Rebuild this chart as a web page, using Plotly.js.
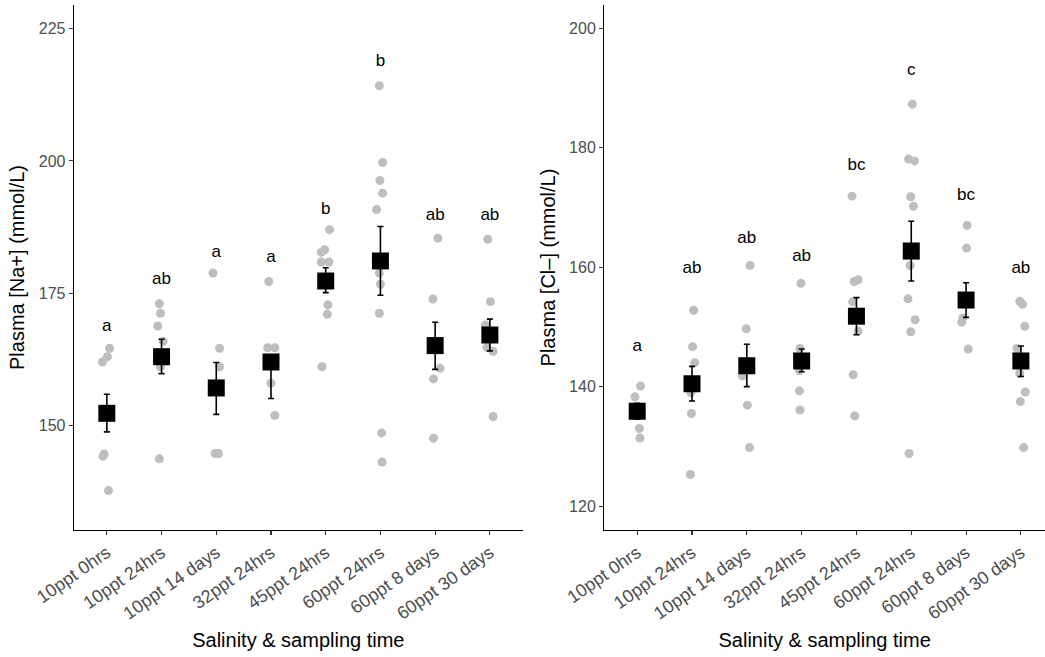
<!DOCTYPE html>
<html>
<head>
<meta charset="utf-8">
<script src="https://cdn.plot.ly/plotly-3.0.1.min.js"></script>
<style>html,body{margin:0;padding:0;background:#fff;}#chart{width:1045px;height:657px;}</style>
</head>
<body>
<div id="chart"></div>
<script>
const categories = ["10ppt 0hrs","10ppt 24hrs","10ppt 14 days","32ppt 24hrs","45ppt 24hrs","60ppt 24hrs","60ppt 8 days","60ppt 30 days"];

// Plasma Na+ (left panel)
const naPoints = [
  [164.6,163.0,162.0,144.6,144.2,137.7],
  [173.0,171.2,168.8,165.9,162.1,161.1,143.7],
  [178.8,164.6,161.1,144.7,144.7],
  [177.2,164.7,164.7,158.0,151.9],
  [187.0,183.2,182.7,180.9,180.9,172.8,171.0,161.1],
  [214.2,199.7,196.3,193.9,190.8,178.8,176.7,171.2,148.6,143.1],
  [185.4,173.9,160.8,158.8,147.6],
  [185.2,173.4,169.0,164.7,164.0,151.7]
];
const naJitter = [
  [0.05,0.01,-0.08,-0.05,-0.07,0.03],
  [-0.04,-0.02,-0.07,0.03,0.07,-0.02,-0.04],
  [-0.06,0.06,0.06,-0.02,0.04],
  [-0.04,-0.06,0.07,0,0.07],
  [0.07,-0.02,-0.08,0.06,-0.08,0.04,0.03,-0.07],
  [-0.02,0.04,-0.01,0.04,-0.07,-0.02,0,-0.02,0.02,0.03],
  [0.05,-0.04,0.09,-0.03,-0.03],
  [-0.04,0.01,-0.08,-0.05,0.06,0.06]
];
const naMean = [152.3,163.0,157.1,162.0,177.3,181.1,165.1,167.1];
const naHigh = [155.9,166.3,161.9,162.0,179.8,187.6,169.5,170.1];
const naLow  = [148.8,159.8,152.1,155.1,175.1,174.6,160.6,164.1];
const naLetters = ["a","ab","a","a","b","b","ab","ab"];
const naLetterY = [168.7,177.6,182.7,181.7,190.8,218.8,189.6,189.6];

// Plasma Cl- (right panel)
const clPoints = [
  [140.1,138.3,133.0,131.4],
  [152.8,146.7,144.0,139.0,135.5,125.3],
  [160.3,149.7,141.8,136.9,129.8],
  [157.3,146.4,142.7,139.3,136.1],
  [171.9,157.9,157.6,154.2,149.3,142.0,135.1],
  [187.3,178.1,177.8,171.8,170.2,160.3,154.7,151.2,149.2,128.8],
  [167.0,163.2,151.5,150.8,146.3],
  [154.3,153.8,150.1,146.4,142.2,139.1,137.5,129.8]
];
const clJitter = [
  [0.06,-0.04,0.04,0.05],
  [0.03,0.01,0.05,-0.02,-0.01,-0.03],
  [0.06,-0.01,-0.08,0.01,0.05],
  [-0.01,-0.03,-0.04,-0.04,-0.03],
  [-0.08,0.03,-0.04,-0.07,0.03,-0.06,-0.03],
  [0.02,-0.05,0.06,-0.01,0.04,-0.02,-0.06,0.07,-0.01,-0.04],
  [0.02,0.01,-0.06,-0.08,0.04],
  [-0.02,0.03,0.07,-0.07,-0.02,0.08,-0.01,0.05]
];
const clMean = [135.9,140.5,143.5,144.3,151.8,162.7,154.5,144.3];
const clHigh = [137.2,143.4,147.1,146.3,154.9,167.7,157.4,146.8];
const clLow  = [134.6,137.6,140.0,142.5,148.7,157.7,151.6,141.7];
const clLetters = ["a","ab","ab","ab","bc","c","bc","ab"];
const clLetterY = [146.6,159.7,164.8,161.8,177.0,192.9,171.9,159.8];

const FONT = "Liberation Sans, Arial, Helvetica, sans-serif";
const idx = categories.map((c,i)=>i+1);

function panelTraces(points, jitter, mean, high, low, letters, letterY, xa, ya){
  const px = [], py = [];
  points.forEach((grp,i)=>grp.forEach((v,j)=>{px.push(i+1+jitter[i][j]); py.push(v);}));
  return [
    {type:"scatter", mode:"markers", x:px, y:py, xaxis:xa, yaxis:ya,
     marker:{color:"#BEBEBE", size:9}, hoverinfo:"y", showlegend:false},
    {type:"scatter", mode:"markers", x:idx, y:mean, xaxis:xa, yaxis:ya,
     marker:{color:"#000000", size:17, symbol:"square"},
     error_y:{type:"data", symmetric:false,
       array: high.map((h,i)=>h-mean[i]), arrayminus: mean.map((m,i)=>m-low[i]),
       color:"#000000", thickness:1.6, width:3},
     showlegend:false},
    {type:"scatter", mode:"text", x:idx, y:letterY, text:letters, xaxis:xa, yaxis:ya,
     textposition:"middle center", textfont:{family:FONT, size:17, color:"#000000"},
     hoverinfo:"skip", showlegend:false}
  ];
}

const data = [].concat(
  panelTraces(naPoints, naJitter, naMean, naHigh, naLow, naLetters, naLetterY, "x", "y"),
  panelTraces(clPoints, clJitter, clMean, clHigh, clLow, clLetters, clLetterY, "x2", "y2")
);

function xAxis(domain, range, anchor){
  return {domain:domain, range:range, anchor:anchor, tickmode:"array", tickvals:idx, ticktext:categories,
    tickangle:-35, showline:true, linecolor:"#000", linewidth:1.3, ticks:"outside", ticklen:4,
    tickwidth:1.1, tickcolor:"#333", showgrid:false, zeroline:false,
    tickfont:{family:FONT, size:18, color:"#4D4D4D"},
    title:{text:"Salinity & sampling time", font:{family:FONT, size:20, color:"#000"}, standoff:10}};
}
function yAxis(range, dtick, tick0, title, anchor){
  return {range:range, dtick:dtick, tick0:tick0, anchor:anchor, showline:true, linecolor:"#000", linewidth:1.3,
    ticks:"outside", ticklen:4, tickwidth:1.1, tickcolor:"#333", showgrid:false, zeroline:false,
    tickfont:{family:FONT, size:16, color:"#4D4D4D"},
    title:{text:title, font:{family:FONT, size:20, color:"#000"}, standoff:8}};
}

const layout = {
  width:1045, height:657,
  margin:{l:0, r:0, t:5, b:127},
  paper_bgcolor:"#fff", plot_bgcolor:"#fff",
  showlegend:false,
  xaxis: xAxis([74/1045, 522.7/1045], [0.4, 8.6], "y"),
  yaxis: yAxis([130.25, 229.46], 25, 150, "Plasma [Na+] (mmol/L)", "x"),
  xaxis2: xAxis([604.3/1045, 1], [0.4, 8.44], "y2"),
  yaxis2: yAxis([116.0, 203.9], 20, 120, "Plasma [Cl\u2013] (mmol/L)", "x2"),
  font:{family:FONT}
};

Plotly.newPlot("chart", data, layout, {displayModeBar:false, staticPlot:true});
</script>
</body>
</html>
